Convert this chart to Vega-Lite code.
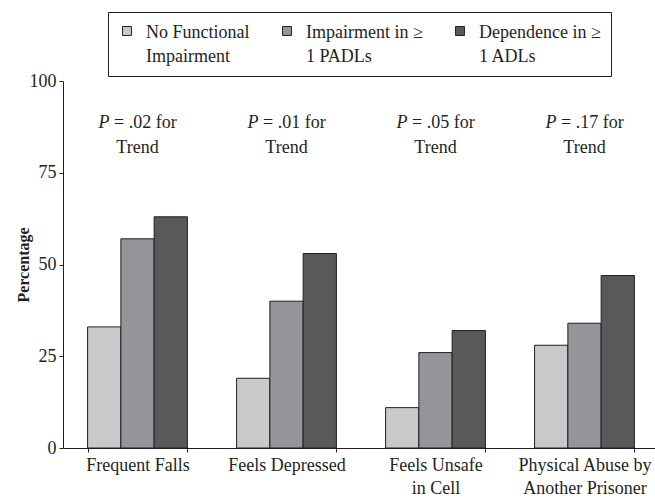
{
  "$schema": "https://vega.github.io/schema/vega-lite/v6.json",
  "autosize": "none",
  "width": 596,
  "height": 367,
  "padding": {"left": 63, "top": 81, "right": 0, "bottom": 50},
  "background": "white",
  "config": {
    "font": "Liberation Serif",
    "view": {"stroke": null},
    "axis": {"labelFont": "Liberation Serif", "titleFont": "Liberation Serif", "labelColor": "#231f20", "titleColor": "#231f20", "domainColor": "#231f20", "tickColor": "#231f20"}
  },
  "datasets": {
    "bars": [
      {"group": "Frequent Falls", "level": "No Functional Impairment", "pct": 33},
      {"group": "Frequent Falls", "level": "Impairment in ≥ 1 PADLs", "pct": 57},
      {"group": "Frequent Falls", "level": "Dependence in ≥ 1 ADLs", "pct": 63},
      {"group": "Feels Depressed", "level": "No Functional Impairment", "pct": 19},
      {"group": "Feels Depressed", "level": "Impairment in ≥ 1 PADLs", "pct": 40},
      {"group": "Feels Depressed", "level": "Dependence in ≥ 1 ADLs", "pct": 53},
      {"group": "Feels Unsafe in Cell", "level": "No Functional Impairment", "pct": 11},
      {"group": "Feels Unsafe in Cell", "level": "Impairment in ≥ 1 PADLs", "pct": 26},
      {"group": "Feels Unsafe in Cell", "level": "Dependence in ≥ 1 ADLs", "pct": 32},
      {"group": "Physical Abuse by Another Prisoner", "level": "No Functional Impairment", "pct": 28},
      {"group": "Physical Abuse by Another Prisoner", "level": "Impairment in ≥ 1 PADLs", "pct": 34},
      {"group": "Physical Abuse by Another Prisoner", "level": "Dependence in ≥ 1 ADLs", "pct": 47}
    ],
    "notes": [
      {"group": "Frequent Falls", "p": ".02"},
      {"group": "Feels Depressed", "p": ".01"},
      {"group": "Feels Unsafe in Cell", "p": ".05"},
      {"group": "Physical Abuse by Another Prisoner", "p": ".17"}
    ]
  },
  "encoding": {
    "x": {
      "field": "group",
      "type": "nominal",
      "sort": ["Frequent Falls", "Feels Depressed", "Feels Unsafe in Cell", "Physical Abuse by Another Prisoner"],
      "scale": {"paddingInner": 0.33, "paddingOuter": 0.165},
      "axis": {
        "title": null,
        "labelAngle": 0,
        "labelFontSize": 18,
        "labelLineHeight": 23,
        "labelPadding": 4,
        "tickSize": 4,
        "tickBand": "extent",
        "labelExpr": "datum.label == 'Feels Unsafe in Cell' ? ['Feels Unsafe', 'in Cell'] : datum.label == 'Physical Abuse by Another Prisoner' ? ['Physical Abuse by', 'Another Prisoner'] : datum.label"
      }
    }
  },
  "layer": [
    {
      "data": {"name": "bars"},
      "mark": {"type": "bar", "stroke": "#231f20", "strokeWidth": 1},
      "encoding": {
        "xOffset": {"field": "level", "type": "nominal", "sort": ["No Functional Impairment", "Impairment in ≥ 1 PADLs", "Dependence in ≥ 1 ADLs"], "scale": {"paddingInner": 0, "paddingOuter": 0}},
        "y": {
          "field": "pct",
          "type": "quantitative",
          "scale": {"domain": [0, 100], "nice": false},
          "axis": {
            "title": "Percentage",
            "titleFontSize": 16,
            "titleFontWeight": "bold",
            "titlePadding": -2,
            "values": [0, 25, 50, 75, 100],
            "labelFontSize": 18,
            "labelPadding": 3,
            "tickSize": 4,
            "grid": false
          }
        },
        "fill": {
          "field": "level",
          "type": "nominal",
          "scale": {"domain": ["No Functional Impairment", "Impairment in ≥ 1 PADLs", "Dependence in ≥ 1 ADLs"], "range": ["#c8c9cb", "#939598", "#58595b"]},
          "legend": {
            "title": null,
            "orient": "none",
            "legendX": 45,
            "legendY": -69,
            "direction": "horizontal",
            "columns": 3,
            "columnPadding": 28,
            "strokeColor": "#231f20",
            "padding": 10,
            "symbolType": "square",
            "symbolSize": 80,
            "symbolStrokeColor": "#231f20",
            "symbolStrokeWidth": 1,
            "labelFont": "Liberation Serif",
            "labelFontSize": 18,
            "labelColor": "#231f20",
            "labelOffset": 10,
            "labelLimit": 300,
            "labelExpr": "datum.label == 'No Functional Impairment' ? ['No Functional', 'Impairment'] : datum.label == 'Impairment in ≥ 1 PADLs' ? ['Impairment in ≥', '1 PADLs'] : ['Dependence in ≥', '1 ADLs']",
            "encode": {"labels": {"update": {"lineHeight": {"value": 24}, "dy": {"value": 2}}}}
          }
        }
      }
    },
    {
      "data": {"name": "notes"},
      "mark": {"type": "text", "font": "Liberation Serif", "fontSize": 18, "fontStyle": "italic", "align": "left", "baseline": "alphabetic", "dx": -39, "color": "#231f20"},
      "encoding": {"y": {"datum": 87.1, "type": "quantitative"}, "text": {"value": "P"}}
    },
    {
      "data": {"name": "notes"},
      "transform": [{"calculate": "'= ' + datum.p + ' for'", "as": "line1"}],
      "mark": {"type": "text", "font": "Liberation Serif", "fontSize": 18, "align": "left", "baseline": "alphabetic", "dx": -23.5, "color": "#231f20"},
      "encoding": {"y": {"datum": 87.1, "type": "quantitative"}, "text": {"field": "line1"}}
    },
    {
      "data": {"name": "notes"},
      "mark": {"type": "text", "font": "Liberation Serif", "fontSize": 18, "align": "center", "baseline": "alphabetic", "color": "#231f20"},
      "encoding": {"y": {"datum": 80.5, "type": "quantitative"}, "text": {"value": "Trend"}}
    }
  ]
}
